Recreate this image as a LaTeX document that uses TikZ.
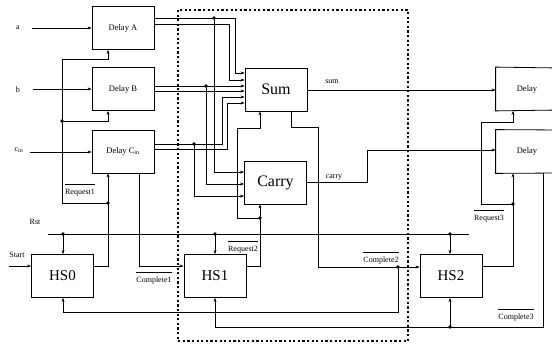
\documentclass[tikz,border=0pt]{standalone}
\usepackage{fontspec}
\setmainfont{Liberation Serif}
\usetikzlibrary{arrows.meta}
\newcommand\ovl[1]{$\overline{\mbox{\rule{0pt}{8.5pt}#1}}$}
\begin{document}
\begin{tikzpicture}[x=1pt,y=-1pt,line width=0.8pt,
  >={Stealth[length=4pt,width=3pt]},
  box/.style={draw,inner sep=0pt,minimum width=62pt,minimum height=43pt},
  dbox/.style={box,font=\fontsize{8.5}{9}\selectfont},
  obox/.style={inner sep=0pt,minimum width=62pt,minimum height=43pt,font=\fontsize{8.5}{9}\selectfont},
  bbox/.style={box,font=\fontsize{16}{17}\selectfont},
  hbox/.style={box,font=\fontsize{15}{16}\selectfont},
  lbl/.style={inner sep=0pt,font=\fontsize{8}{9}\selectfont},
  dot/.style={circle,fill,inner sep=0pt,minimum size=3.6pt},
  frame/.style={line width=2.2pt,dash pattern=on 2.2pt off 2.4pt}]
\useasboundingbox (0,0) rectangle (552,344);
% boxes
\node[dbox] (dA) at (123,28) {Delay A};
\node[dbox] (dB) at (123,89) {Delay B};
\node[dbox] (dC) at (123,151.5) {Delay C\textsubscript{in}};
\node[bbox] (sum) at (276,89.5) {Sum};
\node[bbox] (carry) at (275.5,182.5) {Carry};
\node[hbox] (hs0) at (62.5,276) {HS0};
\node[hbox] (hs1) at (215,276) {HS1};
\node[hbox] (hs2) at (451,276) {HS2};
\node[obox] (dR1) at (527,89) {Delay};
\node[obox] (dR2) at (527,151.5) {Delay};
\draw (560,68) -- (dR1.north west) -- (dR1.south west) -- (560,110);
\draw (560,130) -- (dR2.north west) -- (dR2.south west) -- (560,173);
% dashed frame
\draw[frame] (178,10) rectangle (408,341);
% input labels
\node[lbl] (la) at (18,28) {a};
\node[lbl] (lb) at (18,90) {b};
\node[lbl] (lc) at (19,150) {c\textsubscript{in}};
\node[lbl] (lrst) at (35,222) {Rst};
\node[lbl] (lstart) at (17,255) {Start};
\coordinate (ia) at (32,28);
\coordinate (ib) at (33,89);
\coordinate (ic) at (30,152);
\coordinate (is) at (9,266);
\draw[->] (ia) -- (dA.west|-ia);
\draw[->] (ib) -- (dB.west|-ib);
\draw[->] (ic) -- (dC.west|-ic);
\draw[->] (is) -- (hs0.west|-is);
% Delay A outputs
\draw[->] (dA.east|-0,18) -- (235,18) -- (235,73) -- (sum.west|-0,73);
\draw[->] (dA.east|-0,24) -- (229,24) -- (229,80) -- (sum.west|-0,80);
\node[dot] (j1) at (214,18) {};
\draw[->] (j1.center) -- (214,172) -- (carry.west|-0,172);
% Delay B outputs
\draw[->] (dB.east|-0,86) -- (sum.west|-0,86);
\draw[->] (dB.east|-0,91) -- (sum.west|-0,91);
\node[dot] (j2) at (206,86) {};
\draw[->] (j2.center) -- (206,184) -- (carry.west|-0,184);
% Delay C outputs
\draw[->] (dC.east|-0,144) -- (222,144) -- (222,97) -- (sum.west|-0,97);
\draw[->] (dC.east|-0,149) -- (227,149) -- (227,103) -- (sum.west|-0,103);
\node[dot] (j3) at (194,144) {};
\draw[->] (j3.center) -- (194,196) -- (carry.west|-0,196);
% sum / carry outputs
\draw[->] (sum.east|-0,90) -- (dR1.west|-0,90);
\node[lbl] (lsum) at (332,82) {sum};
\draw[->] (carry.east|-0,182) -- (367,182) -- (367,150) -- (dR2.west|-0,150);
\node[lbl] (lcarry) at (334,177) {carry};
% Request2
\draw[->] (hs1.east|-0,266) -- (260,266) -- (carry.south-|260,0);
\node[dot] (j4) at (260,218) {};
\draw[->] (j4.center) -- (237,218) -- (237,128) -- (260,128) -- (sum.south-|260,0);
\node[lbl] (lreq2) at (243,247) {\ovl{Request2}};
% Complete2
\draw[->] (sum.south-|291,0) -- (291,127) -- (318,127) -- (318,267) -- (hs2.west|-0,267);
\node[dot] (j5) at (398,267) {};
\draw[->] (j5.center) -- (398,312) -- (63,312) -- (hs0.south-|63,0);
\node[lbl] (lcomp2) at (381,258) {\ovl{Complete2}};
% Request1
\draw[->] (hs0.east|-0,266) -- (108,266) -- (dC.south-|108,0);
\node[dot] (j6) at (108,203) {};
\draw[->] (j6.center) -- (62,203) -- (62,59) -- (108,59) -- (dA.south-|108,0);
\node[dot] (j7) at (62,121) {};
\draw[->] (j7.center) -- (108,121) -- (dB.south-|108,0);
\node[lbl] (lreq1) at (80,190) {\ovl{Request1}};
% Complete1
\draw[->] (dC.south-|139,0) -- (139,266) -- (hs1.west|-0,266);
\node[lbl] (lcomp1) at (154,278) {\ovl{Complete1}};
% Rst
\coordinate (r0) at (48,234);
\coordinate (r1) at (469,234);
\draw (r0) -- (r1);
\node[dot] (k0) at (63,234) {};
\node[dot] (k1) at (215,234) {};
\node[dot] (k2) at (450,234) {};
\draw[->] (k0.center) -- (hs0.north-|63,0);
\draw[->] (k1.center) -- (hs1.north-|215,0);
\draw[->] (k2.center) -- (hs2.north-|450,0);
% Request3
\draw[->] (hs2.east|-0,266) -- (513,266) -- (dR2.south-|513,0);
\node[dot] (j8) at (513,204) {};
\draw[->] (j8.center) -- (481,204) -- (481,122) -- (513,122) -- (dR1.south-|513,0);
\node[lbl] (lreq3) at (489,216) {\ovl{Request3}};
% Complete3
\draw[->] (dR2.south-|543,0) -- (543,327) -- (215,327) -- (hs1.south-|215,0);
\node[dot] (j9) at (450,327) {};
\draw[->] (j9.center) -- (hs2.south-|450,0);
\node[lbl] (lcomp3) at (516,315) {\ovl{Complete3}};
\end{tikzpicture}
\end{document}
